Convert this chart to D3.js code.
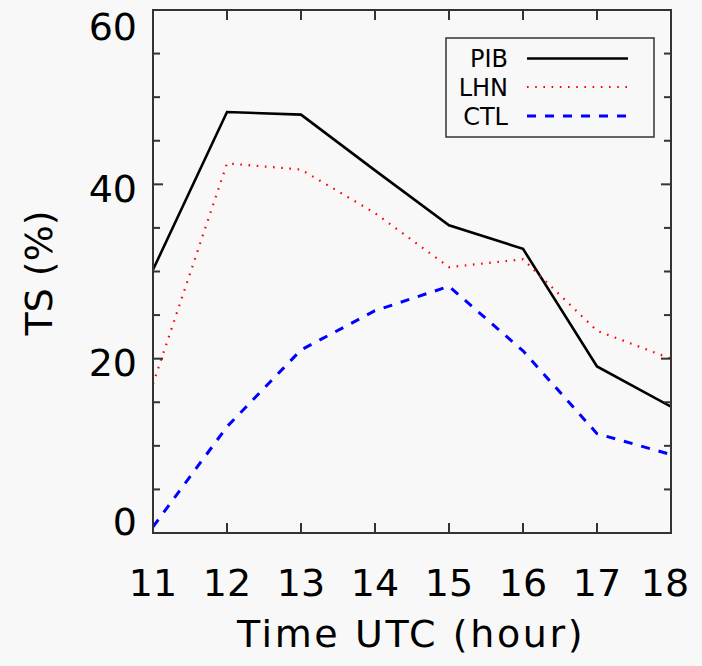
<!DOCTYPE html>
<html>
<head>
<meta charset="utf-8">
<script src="https://cdn.jsdelivr.net/npm/d3@7"></script>
<style>
  html, body { margin: 0; padding: 0; background: #f8f8f8; }
  svg { display: block; }
  text { font-family: "DejaVu Sans", sans-serif; fill: #000; }
</style>
</head>
<body>
<svg id="chart" width="702" height="666"></svg>
<script>
// Forecast hours (UTC) and threat score (%) for each experiment
const hours = [11, 12, 13, 14, 15, 16, 17, 18];
const pib = [30.2, 48.3, 48.0, 41.6, 35.3, 32.6, 19.1, 14.5];
const lhn = [17.1, 42.4, 41.7, 36.7, 30.5, 31.4, 23.2, 20.0];
const ctl = [0.7, 12.2, 21.0, 25.5, 28.3, 20.9, 11.4, 9.0];
const seriesNames = ["PIB", "LHN", "CTL"];
const yTickValues = [0, 20, 40, 60];

const series = [
  { name: seriesNames[0], values: pib, color: "#000000", width: 2.6, dash: null },
  { name: seriesNames[1], values: lhn, color: "#ff0000", width: 2.2, dash: "1.6,6.6" },
  { name: seriesNames[2], values: ctl, color: "#0000ff", width: 3, dash: "9,9" }
];

const svg = d3.select("#chart");
const plotL = 153, plotR = 671, plotT = 10, plotB = 533;

const x = d3.scaleLinear().domain([11, 18]).range([plotL, plotR]);
const y = d3.scaleLinear().domain([0, 60]).range([plotB, plotT]);

// Data lines, clipped to the plot frame
svg.append("clipPath").attr("id", "plotclip")
  .append("rect").attr("x", plotL).attr("y", plotT)
  .attr("width", plotR - plotL).attr("height", plotB - plotT);

const line = d3.line().x((d, i) => x(hours[i])).y(d => y(d));

const g = svg.append("g").attr("clip-path", "url(#plotclip)");
series.forEach(s => {
  g.append("path")
    .attr("d", line(s.values))
    .attr("fill", "none")
    .attr("stroke", s.color)
    .attr("stroke-width", s.width)
    .attr("stroke-dasharray", s.dash)
    .attr("stroke-linejoin", "miter");
});

// Frame
svg.append("rect")
  .attr("x", plotL).attr("y", plotT)
  .attr("width", plotR - plotL).attr("height", plotB - plotT)
  .attr("fill", "none").attr("stroke", "#333").attr("stroke-width", 2);

// Inward ticks on all four sides
const yMinor = d3.range(0, 61, 5);
const tickColor = "#333";
yMinor.forEach(v => {
  const len = v % 20 === 0 ? 10 : 7;
  svg.append("line").attr("x1", plotL).attr("x2", plotL + len)
    .attr("y1", y(v)).attr("y2", y(v)).attr("stroke", tickColor).attr("stroke-width", 2);
  svg.append("line").attr("x1", plotR).attr("x2", plotR - len)
    .attr("y1", y(v)).attr("y2", y(v)).attr("stroke", tickColor).attr("stroke-width", 2);
});
hours.forEach(h => {
  svg.append("line").attr("x1", x(h)).attr("x2", x(h))
    .attr("y1", plotB).attr("y2", plotB - 10).attr("stroke", tickColor).attr("stroke-width", 2);
  svg.append("line").attr("x1", x(h)).attr("x2", x(h))
    .attr("y1", plotT).attr("y2", plotT + 10).attr("stroke", tickColor).attr("stroke-width", 2);
});

// Tick labels
const fs = 38;
yTickValues.forEach(v => {
  const cy = Math.max(26, Math.min(521, y(v) + 4));
  svg.append("text")
    .attr("x", 137).attr("y", cy)
    .attr("dy", "0.36em")
    .attr("text-anchor", "end")
    .attr("font-size", fs)
    .text(v);
});
hours.forEach(h => {
  const cx = Math.min(665, x(h));
  svg.append("text")
    .attr("x", cx).attr("y", 596)
    .attr("text-anchor", "middle")
    .attr("font-size", fs)
    .text(h);
});

// Axis titles
svg.append("text")
  .attr("x", 411).attr("y", 647)
  .attr("text-anchor", "middle")
  .attr("font-size", fs)
  .attr("letter-spacing", "2.6px")
  .text("Time UTC (hour)");

svg.append("text")
  .attr("transform", "translate(52,273) rotate(-90)")
  .attr("text-anchor", "middle")
  .attr("font-size", fs)
  .text("TS (%)");

// Legend
svg.append("rect")
  .attr("x", 446).attr("y", 38)
  .attr("width", 208).attr("height", 99)
  .attr("fill", "none").attr("stroke", "#333").attr("stroke-width", 1.5);

const legendRows = [58.5, 87, 116];
series.forEach((s, i) => {
  const ly = legendRows[i];
  svg.append("text")
    .attr("x", 508).attr("y", ly)
    .attr("dy", "0.36em")
    .attr("text-anchor", "end")
    .attr("font-size", 24)
    .text(s.name);
  svg.append("line")
    .attr("x1", 527).attr("x2", 628)
    .attr("y1", ly).attr("y2", ly)
    .attr("stroke", s.color)
    .attr("stroke-width", s.width)
    .attr("stroke-dasharray", s.dash);
});
</script>
</body>
</html>
